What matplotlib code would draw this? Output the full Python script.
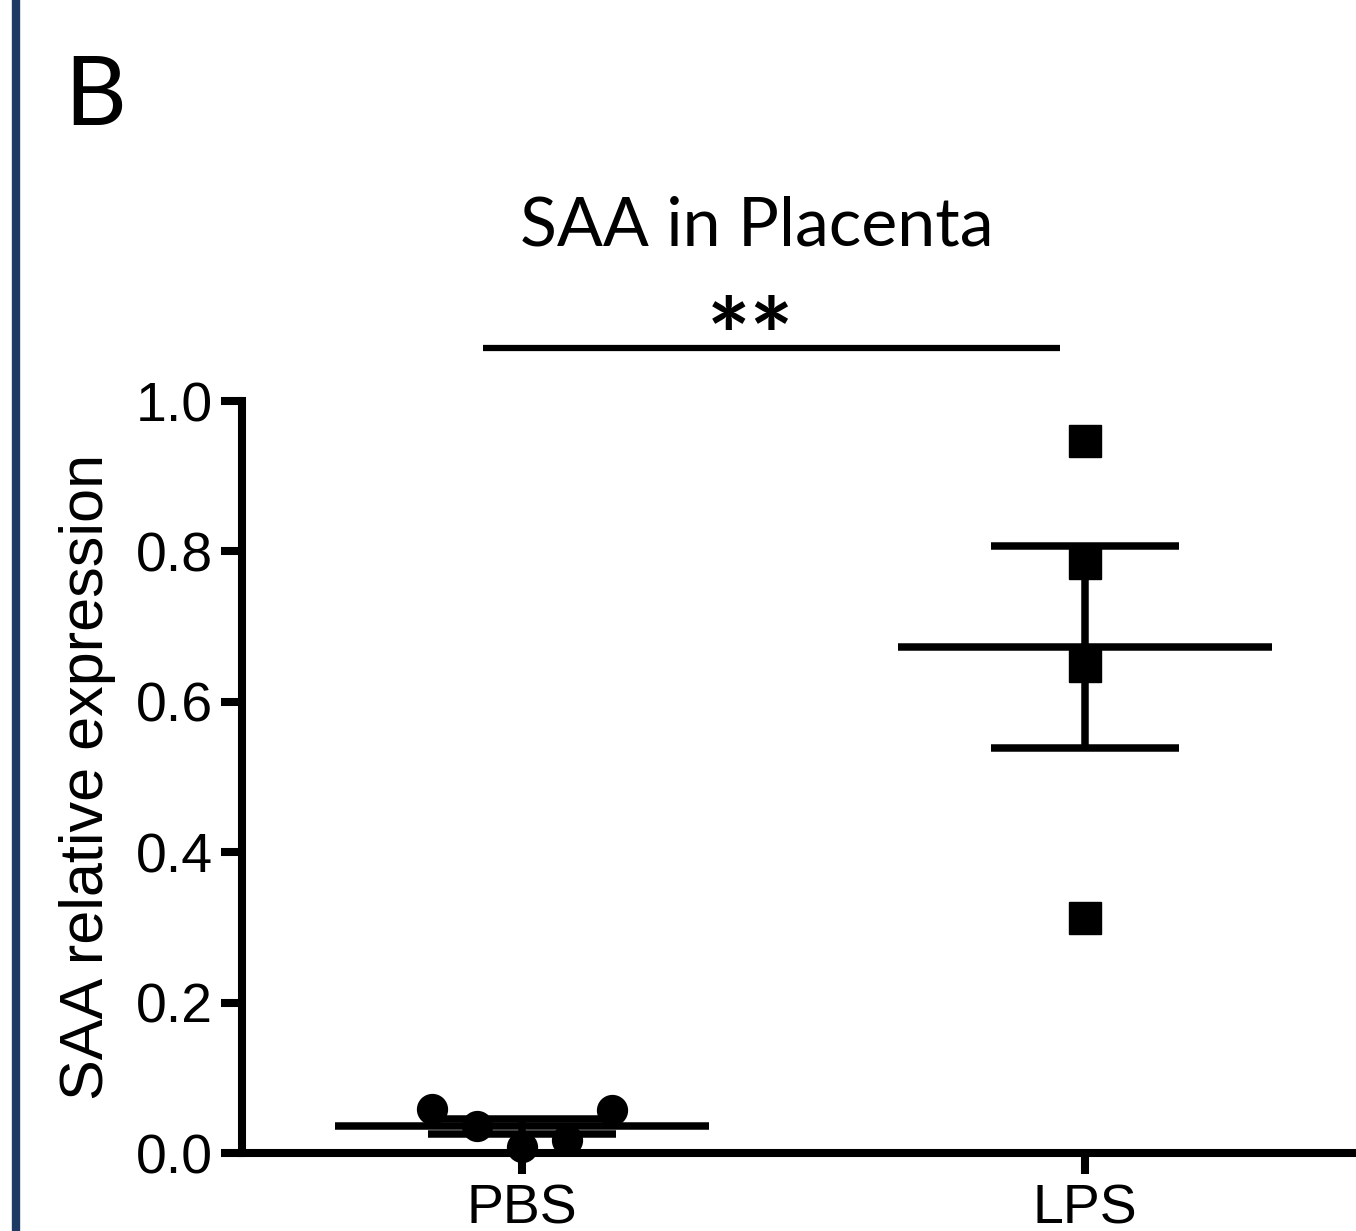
import numpy as np
import matplotlib
matplotlib.use('Agg')
import matplotlib.pyplot as plt
from matplotlib.lines import Line2D

# Data
groups = ['PBS', 'LPS']
pbs_vals = [0.0585, 0.036, 0.008, 0.0173, 0.057]
lps_vals = [0.947, 0.784, 0.648, 0.3125]
yticks = [0.0, 0.2, 0.4, 0.6, 0.8, 1.0]
title = 'SAA in Placenta'
ylabel = 'SAA relative expression'
panel = 'B'
sig = '**'

W, H = 1356, 1231
fig = plt.figure(figsize=(W / 100, H / 100), dpi=100)
ax = fig.add_axes([242 / W, 1 - 1153 / H, 1 - 242 / W, (1153 - 401) / H])

lw = 5.4
for i, vals in enumerate([pbs_vals, lps_vals]):
    vals = np.array(vals)
    n = len(vals)
    if i == 0:
        xs = i + np.linspace(-0.16, 0.16, n)
        ax.plot(xs, vals, 'o', ms=21.5, color='black', zorder=2, clip_on=False)
    else:
        xs = np.full(n, i)
        ax.plot(xs, vals, 's', ms=22.5, color='black', zorder=2, clip_on=False)
    m = vals.mean()
    sem = vals.std(ddof=1) / np.sqrt(n)
    ax.hlines(m, i - 0.332, i + 0.332, color='black', lw=lw, zorder=3)
    ax.hlines([m - sem, m + sem], i - 0.167, i + 0.167, color='black', lw=lw, zorder=3)
    ax.vlines(i, m - sem, m + sem, color='black', lw=lw, zorder=3)

ax.set_xlim(-0.497, 1.481)
ax.set_ylim(0, 1.0)
ax.set_xticks([0, 1])
ax.set_xticklabels(groups)
ax.set_yticks(yticks)
ax.set_yticklabels(['%.1f' % t for t in yticks])
for s in ['top', 'right']:
    ax.spines[s].set_visible(False)
for s in ['left', 'bottom']:
    ax.spines[s].set_linewidth(5.8)
ax.tick_params(axis='both', length=15, width=5.8, labelsize=40, direction='out')
ax.tick_params(axis='y', pad=6)
ax.tick_params(axis='x', pad=7)
for lab in ax.get_xticklabels() + ax.get_yticklabels():
    lab.set_family('Liberation Sans')
ax.set_ylabel(ylabel, fontsize=44, family='Liberation Sans', labelpad=14)

# significance bar
ax.plot([-0.069, 0.956], [1.071, 1.071], color='black', lw=4.5, clip_on=False,
        solid_capstyle='butt')
ax.text(0.405, 1.015, sig, ha='center', va='bottom', fontsize=74,
        fontweight='bold', family='Lato')

fig.text(757 / W, 1 - 226 / H, title, ha='center', va='center', fontsize=49,
         family='Lato')
fig.text(64 / W, 1 - 98 / H, panel, ha='left', va='center', fontsize=69,
         family='Lato')

# dark blue border line at left
fig.add_artist(Line2D([16 / W, 16 / W], [0, 1], color='#1c3a63', lw=6,
                      transform=fig.transFigure))

fig.savefig('out.png', dpi=100)
